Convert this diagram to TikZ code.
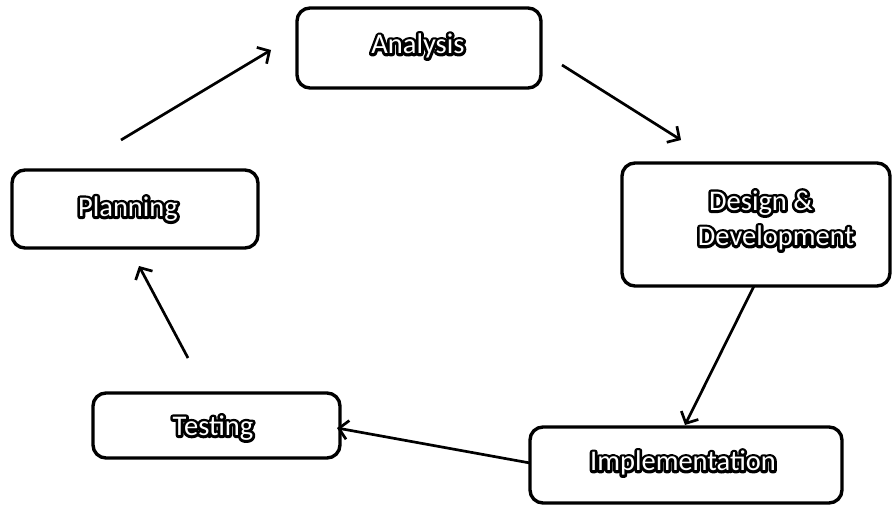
\documentclass[tikz,border=0pt]{standalone}
\usepackage{fontspec}
\setmainfont{Carlito}
\usetikzlibrary{arrows.meta}
% white lettering with a thick black rim: a stroked black copy underneath,
% the plain white text on top
\newcommand{\halo}[1]{\leavevmode
  \rlap{\special{pdf:code q 2 Tr 5.4 w 1 j 1 J 0 G 0 g}#1\special{pdf:code Q}}%
  \textcolor{white}{#1}}
\begin{document}
\begin{tikzpicture}[x=1pt,y=-1pt,
  stage/.style={draw=black, line width=3.4pt, rounded corners=13pt, fill=white},
  lbl/.style={font=\fontsize{28.5}{34}\selectfont, align=center, inner sep=0pt},
  flow/.style={line width=2.7pt, -{Straight Barb[length=9pt,width=19pt,line width=2.7pt]}}]
\useasboundingbox (0,0) rectangle (892,506);

% stage boxes
\draw[stage] (297,8) rectangle (541,88);
\draw[stage] (622,163) rectangle (890,286);
\draw[stage] (530,427) rectangle (842,503);
\draw[stage] (93,393) rectangle (340,458);
\draw[stage] (12,170) rectangle (258,248);

% labels
\node[lbl] (ana) at (418,46) {\halo{Analysis}};
\node[lbl] (dd1) at (761,203) {\halo{Design \&}};
\node[lbl] (dd2) at (776,238) {\halo{Development}};
\node[lbl] (imp) at (683,463) {\halo{Implementation}};
\node[lbl] (tst) at (213,428) {\halo{Testing}};
\node[lbl] (pln) at (128,209) {\halo{Planning}};

% arrow end points
\coordinate (a1) at (121,140);  \coordinate (a2) at (271,50);
\coordinate (b1) at (562,65);   \coordinate (b2) at (681,140);
\coordinate (c1) at (754,286);  \coordinate (c2) at (685,425);
\coordinate (d1) at (530,463);  \coordinate (d2) at (337,428);
\coordinate (e1) at (188,358);  \coordinate (e2) at (139,266);

\draw[flow] (a1) -- (a2);
\draw[flow] (b1) -- (b2);
\draw[flow] (c1) -- (c2);
\draw[flow] (d1) -- (d2);
\draw[flow] (e1) -- (e2);
\end{tikzpicture}
\end{document}
